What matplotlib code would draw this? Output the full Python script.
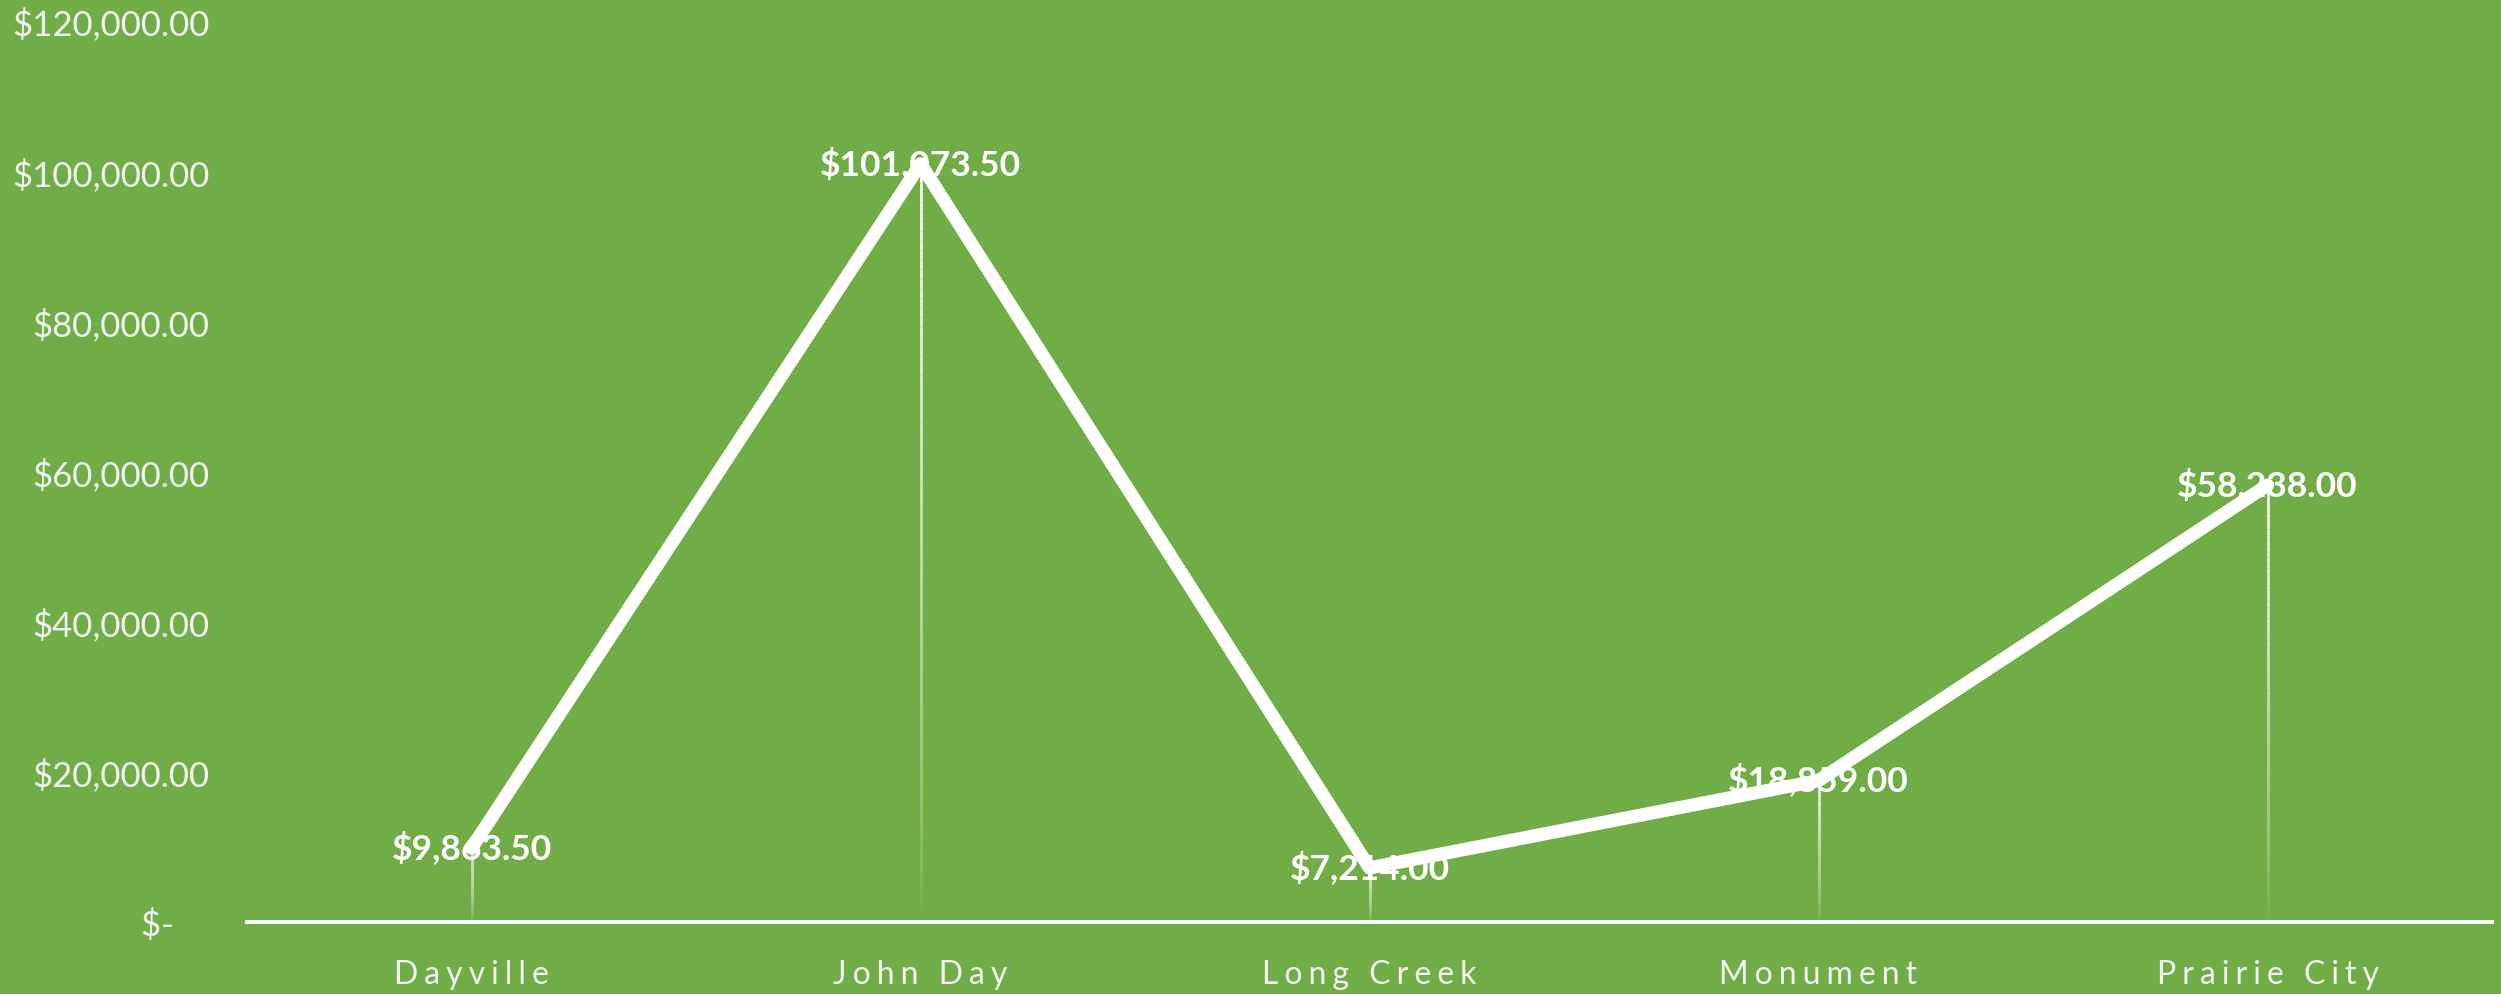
import numpy as np
import matplotlib.pyplot as plt
from matplotlib.collections import LineCollection

towns = ['Dayville', 'John Day', 'Long Creek', 'Monument', 'Prairie City']
totals = [9863.50, 101073.50, 7214.00, 18859.00, 58238.00]
yticks = [0, 20000, 40000, 60000, 80000, 100000, 120000]

green = '#70AD47'
plt.rcParams['font.family'] = ['Lato', 'DejaVu Sans']


def money(v):
    if v == 0:
        return '$-    '
    return '${:,.2f}'.format(v)


def spaced(s):
    return '\u2009\u200a'.join(s)


fig = plt.figure(figsize=(25.01, 9.94), dpi=100, facecolor=green)
ax = fig.add_axes([0.0988, 0.0724, 0.8976, 0.9056])
ax.set_facecolor(green)

x = np.arange(len(towns))

# drop lines, fading toward the axis
for xi, v in zip(x, totals):
    ys = np.linspace(0, v, 80)
    segs = [[(xi, ys[i]), (xi, ys[i + 1])] for i in range(len(ys) - 1)]
    alphas = np.linspace(0.0, 0.95, len(segs)) ** 0.7
    cols = [(1, 1, 1, a) for a in alphas]
    ax.add_collection(LineCollection(segs, colors=cols, linewidths=2.0, zorder=2))

ax.plot(x, totals, color='white', lw=9.5, solid_joinstyle='round',
        solid_capstyle='round', zorder=3)

for xi, v in zip(x, totals):
    ax.text(xi, v, money(v), ha='center', va='center', color='white',
            fontsize=25.5, fontweight='bold', zorder=4)

ax.set_xlim(-0.5, len(towns) - 0.5)
ax.set_ylim(0, 120000)
ax.set_yticks(yticks)
ax.set_yticklabels([money(v) for v in yticks])
ax.set_xticks(x)
ax.set_xticklabels([spaced(t) for t in towns])
ax.tick_params(axis='y', length=0, pad=27, labelsize=25, labelcolor='#F2F2F2')
ax.tick_params(axis='x', length=0, pad=27, labelsize=23, labelcolor='#F2F2F2')

for s in ['top', 'right', 'left']:
    ax.spines[s].set_visible(False)
ax.spines['bottom'].set_color('white')
ax.spines['bottom'].set_linewidth(2.8)
ax.spines['bottom'].set_zorder(5)

fig.savefig('out.png', dpi=100, facecolor=green)
